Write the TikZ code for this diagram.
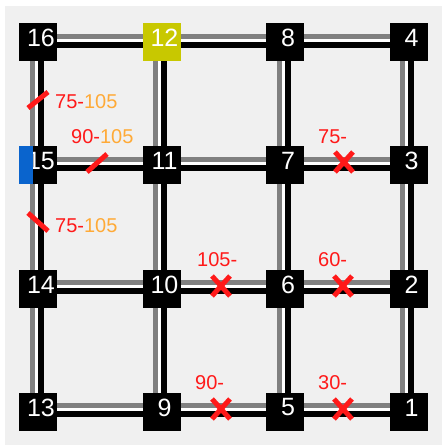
\documentclass[tikz,border=0pt]{standalone}
\usepackage{fontspec}
\setmainfont{Liberation Sans}
\usetikzlibrary{backgrounds}

\definecolor{achtergrond}{RGB}{240,240,240}
\definecolor{spoorgrijs}{RGB}{128,128,128}
\definecolor{rood}{RGB}{255,25,25}
\definecolor{oranje}{RGB}{255,170,55}
\definecolor{geel}{RGB}{200,200,0}
\definecolor{blauw}{RGB}{10,100,205}

\begin{document}
\begin{tikzpicture}[x=1pt,y=-1pt]

% --- Stijlen ---
\tikzset{
    knoop/.style={
        fill=black,
        minimum size=38pt,
        inner sep=0pt
    },
    nummer/.style={
        text=white,
        font=\fontsize{25}{25}\selectfont,
        xshift=3pt, yshift=4pt % getal iets rechtsboven in het vak
    },
    bereik/.style={
        anchor=west,
        inner sep=0pt,
        text=rood,
        font=\fontsize{20}{20}\selectfont
    },
    grijsspoor/.style={draw=spoorgrijs, line width=5pt},
    witspoor/.style={draw=white, line width=3pt},
    zwartspoor/.style={draw=black, line width=6pt},
    streep/.style={draw=rood, line width=5pt}
}

\useasboundingbox (0,0) rectangle (442,445);

% --- Knooppunten ---
\node[knoop, label={[nummer]center:16}] (n16) at (38,42) {};
\node[knoop, fill=geel, label={[nummer]center:12}] (n12) at (161.5,42) {};
\node[knoop, label={[nummer]center:8}] (n8) at (285,42) {};
\node[knoop, label={[nummer]center:4}] (n4) at (408.5,42) {};
\node[knoop, label={[nummer]center:15}] (n15) at (38,165) {};
\node[knoop, label={[nummer]center:11}] (n11) at (161.5,165) {};
\node[knoop, label={[nummer]center:7}] (n7) at (285,165) {};
\node[knoop, label={[nummer]center:3}] (n3) at (408.5,165) {};
\node[knoop, label={[nummer]center:14}] (n14) at (38,288.5) {};
\node[knoop, label={[nummer]center:10}] (n10) at (161.5,288.5) {};
\node[knoop, label={[nummer]center:6}] (n6) at (285,288.5) {};
\node[knoop, label={[nummer]center:2}] (n2) at (408.5,288.5) {};
\node[knoop, label={[nummer]center:13}] (n13) at (38,411.5) {};
\node[knoop, label={[nummer]center:9}] (n9) at (161.5,411.5) {};
\node[knoop, label={[nummer]center:5}] (n5) at (285,411.5) {};
\node[knoop, label={[nummer]center:1}] (n1) at (408.5,411.5) {};

% blauw blokje op 15
\fill[blauw] (n15.north west) rectangle ([xshift=14.5pt]n15.south west);

% --- Sporen (achter de knopen) ---
\begin{pgfonlayer}{background}
\fill[achtergrond] (5,6) rectangle (442,445);
\foreach \a/\b in {16/12,12/8,8/4,15/11,11/7,7/3,14/10,10/6,6/2,13/9,9/5,5/1} {
    \draw[grijsspoor] ([yshift=6pt]n\a.center) -- ([yshift=6pt]n\b.center);
    \draw[witspoor] ([yshift=2pt]n\a.center) -- ([yshift=2pt]n\b.center);
    \draw[zwartspoor] ([yshift=-2.5pt]n\a.center) -- ([yshift=-2.5pt]n\b.center);
}
\foreach \a/\b in {16/15,15/14,14/13,12/11,11/10,10/9,8/7,7/6,6/5,4/3,3/2,2/1} {
    \draw[grijsspoor] ([xshift=-6pt]n\a.center) -- ([xshift=-6pt]n\b.center);
    \draw[witspoor] ([xshift=-2pt]n\a.center) -- ([xshift=-2pt]n\b.center);
    \draw[zwartspoor] ([xshift=2.5pt]n\a.center) -- ([xshift=2.5pt]n\b.center);
}
\end{pgfonlayer}

% --- Blokkades ---
\coordinate (k73) at (344,162);
\coordinate (k106) at (221,286);
\coordinate (k62) at (343,286);
\coordinate (k95) at (221,409);
\coordinate (k51) at (343,409);
\foreach \k in {k73,k106,k62,k95,k51} {
    \draw[streep] ([shift={(-9,10)}]\k) -- ([shift={(9,-10)}]\k);
    \draw[streep] ([shift={(-9,-10)}]\k) -- ([shift={(9,10)}]\k);
}
\coordinate (s1615) at (38,100);
\coordinate (s1514) at (38,222);
\coordinate (s1511) at (97,163);
\draw[streep] ([shift={(-10,8)}]s1615) -- ([shift={(10,-8)}]s1615);
\draw[streep] ([shift={(-10,-9)}]s1514) -- ([shift={(10,9)}]s1514);
\draw[streep] ([shift={(-10,9)}]s1511) -- ([shift={(10,-9)}]s1511);

% --- Tijden ---
\node[bereik] (t73) at (318,137) {75-};
\node[bereik] (t106) at (197,260) {105-};
\node[bereik] (t62) at (318,260) {60-};
\node[bereik] (t95) at (195,383) {90-};
\node[bereik] (t51) at (318,383) {30-};
\node[bereik] (t1615) at (55,102) {75-\textcolor{oranje}{105}};
\node[bereik] (t1511) at (71,137) {90-\textcolor{oranje}{105}};
\node[bereik] (t1514) at (55,226) {75-\textcolor{oranje}{105}};
\end{tikzpicture}
\end{document}
